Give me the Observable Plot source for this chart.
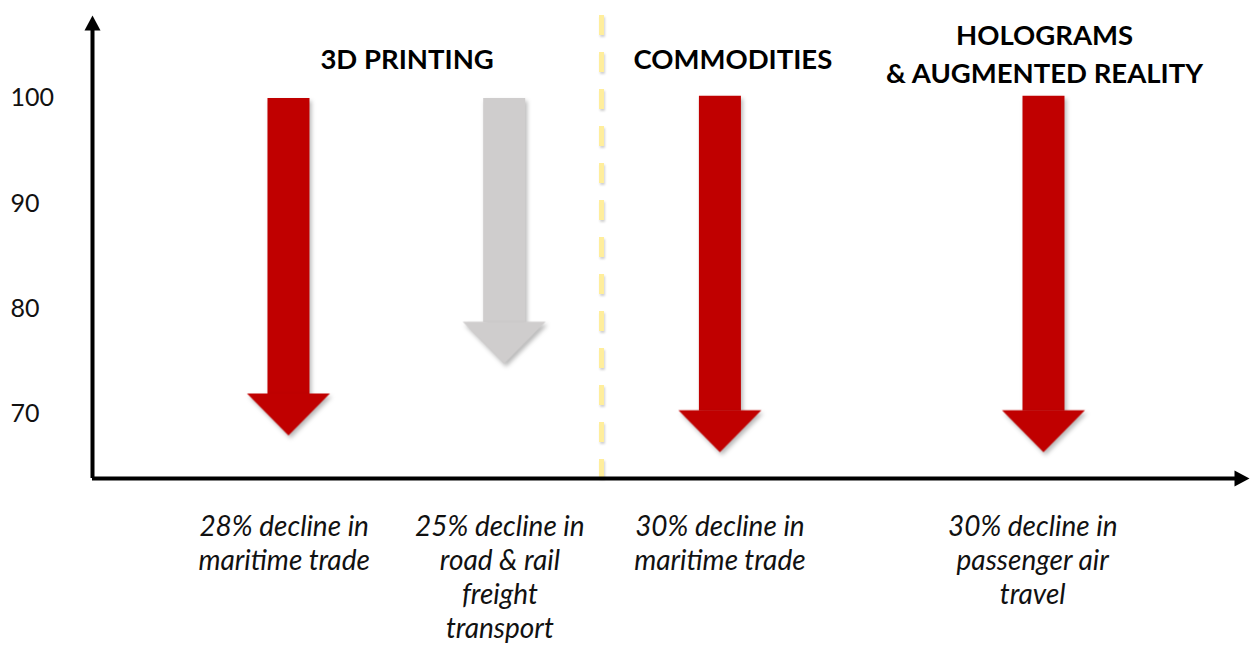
<!DOCTYPE html>
<html><head><meta charset="utf-8">
<script src="https://cdn.jsdelivr.net/npm/d3@7"></script>
<script src="https://cdn.jsdelivr.net/npm/@observablehq/plot@0.6"></script>
<style>
body{margin:0;background:#fff;}
#chart svg{font-family:Lato, "Open Sans", sans-serif; overflow:visible;}
g[aria-description="arrow"]{filter:drop-shadow(2px 3px 2px rgba(0,0,0,0.28));}
g[aria-description="separator"]{filter:drop-shadow(1px 2px 1px rgba(0,0,0,0.18));}
</style>
</head><body><div id="chart"></div>
<script>
// ---- data ----
const arrowIds = ["3d-maritime", "3d-road-rail", "commodities-maritime", "holograms-air"];
const startValues = [100, 100, 100.2, 100.2];
const endValues = [68.0, 74.8, 66.4, 66.4];
const arrowColors = ["#c00000", "#cfcdcd", "#c00000", "#c00000"];
const singleTitles = ["3D PRINTING", "COMMODITIES"];
const doubleTitles = ["HOLOGRAMS\n& AUGMENTED REALITY"];
const bottomLabels = [
  "28% decline in\nmaritime trade",
  "25% decline in\nroad & rail\nfreight\ntransport",
  "30% decline in\nmaritime trade",
  "30% decline in\npassenger air\ntravel"
];
const yTicks = [70, 80, 90, 100];

// ---- layout ----
const slots = [0, 2, 4, 7];
const labelSlots = [-0.04, 1.96, 4.0, 6.9];
const singleTitleSlots = [1.1, 4.12];
const doubleTitleSlots = [7.01];
const separatorSlot = 2.902;
const xDomain = [-1.817, 8.91];
const yDomain = [63.91, 107.88];

const arrows = arrowIds.map((id, i) => ({id, slot: slots[i], labelSlot: labelSlots[i], start: startValues[i], end: endValues[i], color: arrowColors[i], label: bottomLabels[i]}));

const headDown = {draw(ctx) { ctx.moveTo(-41.5, -42); ctx.lineTo(41.5, -42); ctx.lineTo(0, 0); ctx.closePath(); }};
const headUp = {draw(ctx) { ctx.moveTo(-8, 15); ctx.lineTo(8, 15); ctx.lineTo(0, 0); ctx.closePath(); }};
const headRight = {draw(ctx) { ctx.moveTo(-15, -8); ctx.lineTo(-15, 8); ctx.lineTo(0, 0); ctx.closePath(); }};

const plot = Plot.plot({
  width: 1250,
  height: 645,
  marginLeft: 92,
  marginRight: 1,
  marginTop: 15,
  marginBottom: 167,
  x: {domain: xDomain, axis: null},
  y: {domain: yDomain, axis: null},
  style: {background: "#fff", overflow: "visible"},
  marks: [
    Plot.axisY({ticks: yTicks, tickSize: 0, tickPadding: 0, textAnchor: "start", dx: -82, fontSize: 25, fill: "#111", tickFormat: d => String(d)}),
    Plot.ruleX([separatorSlot], {stroke: "#ffee9c", strokeWidth: 5, strokeDasharray: "20,17", ariaDescription: "separator"}),
    Plot.ruleX([xDomain[0]], {stroke: "#000", strokeWidth: 4, insetTop: 12}),
    Plot.ruleY([yDomain[0]], {stroke: "#000", strokeWidth: 4, insetRight: 12}),
    Plot.dot([[xDomain[0], yDomain[1]]], {x: d => d[0], y: d => d[1], symbol: headUp, fill: "#000", stroke: null}),
    Plot.dot([[xDomain[1], yDomain[0]]], {x: d => d[0], y: d => d[1], symbol: headRight, fill: "#000", stroke: null}),
    Plot.ruleX(arrows, {x: "slot", y1: "start", y2: "end", stroke: "color", strokeWidth: 42, insetBottom: 41, ariaDescription: "arrow"}),
    Plot.dot(arrows, {x: "slot", y: "end", symbol: () => headDown, fill: "color", stroke: null, ariaDescription: "arrow"}),
    Plot.text(singleTitles, {x: (d, i) => singleTitleSlots[i], text: d => d, frameAnchor: "top", dy: 45, lineAnchor: "middle", fontSize: 27.5, fontWeight: "bold", fill: "#000"}),
    Plot.text(doubleTitles, {x: (d, i) => doubleTitleSlots[i], text: d => d, frameAnchor: "top", dy: 36, lineAnchor: "middle", lineHeight: 1.38, fontSize: 27.5, fontWeight: "bold", fill: "#000"}),
    Plot.text(arrows, {x: "labelSlot", text: "label", frameAnchor: "bottom", dy: 33, lineAnchor: "top", lineHeight: 1.22, fontSize: 28, fontStyle: "italic", fill: "#111"})
  ]
});
document.getElementById("chart").appendChild(plot);
</script>
</body></html>
